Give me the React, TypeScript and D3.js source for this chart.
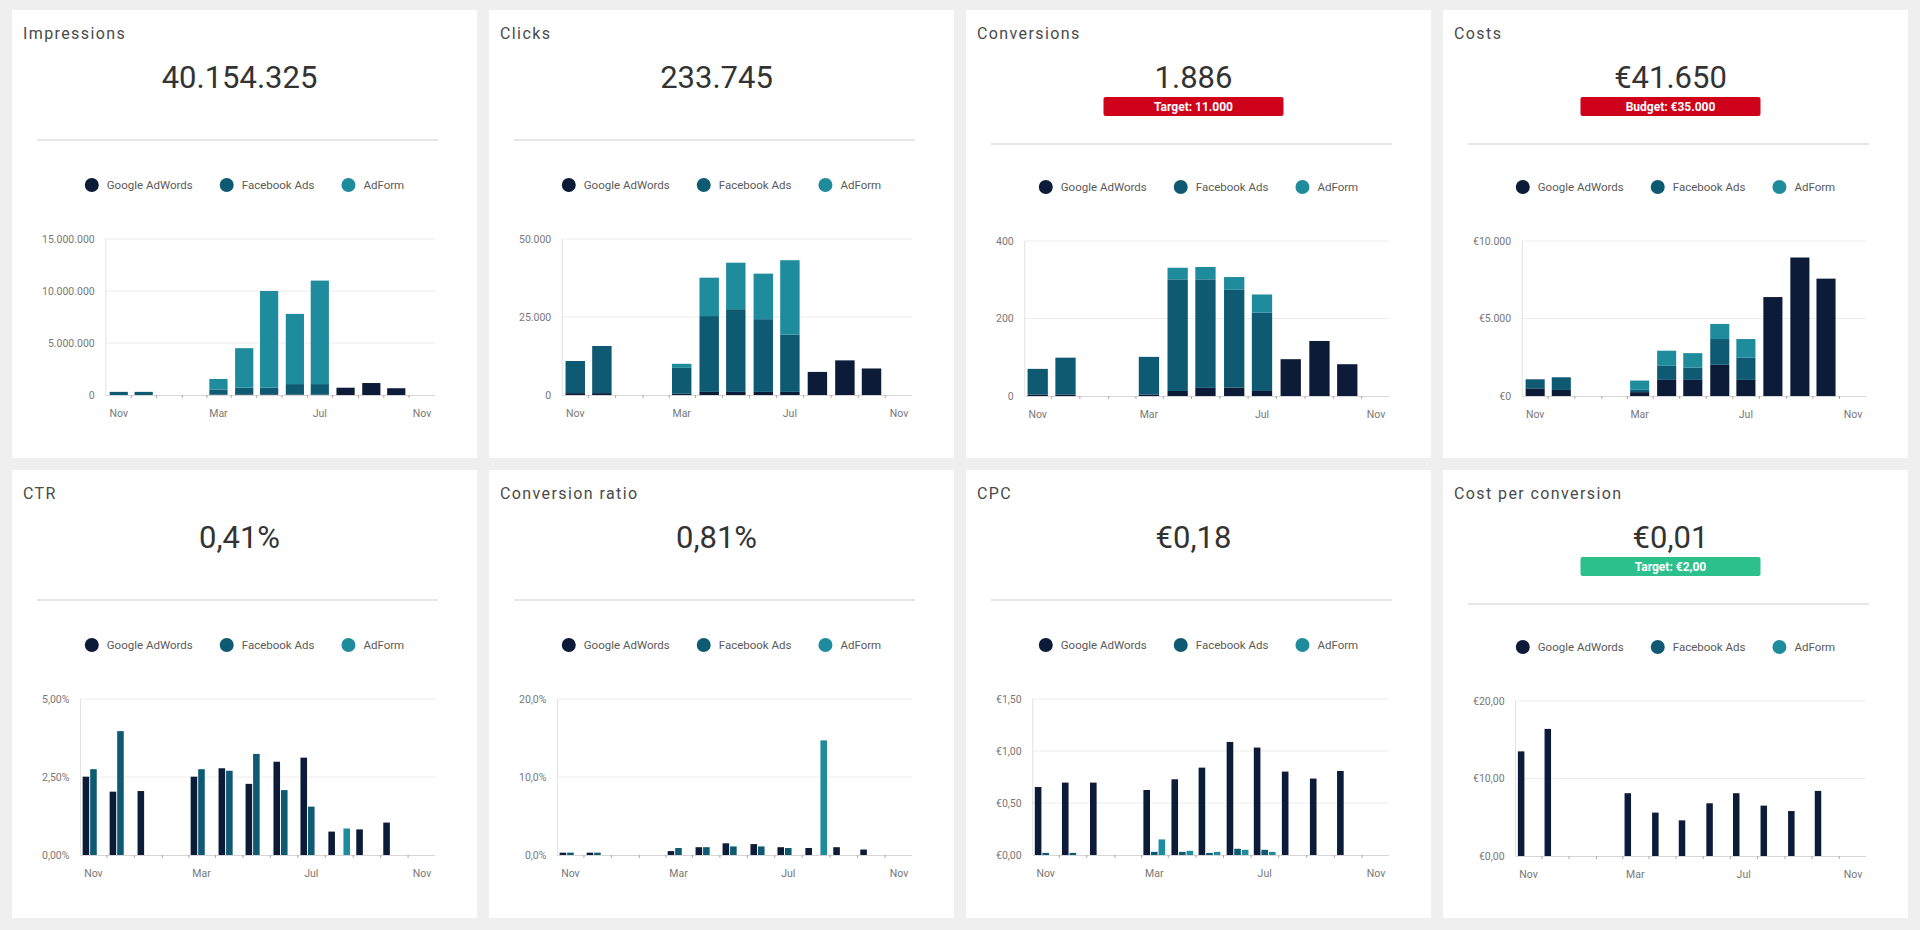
import React from 'react';
import * as d3 from 'd3';

// ---------- DATA ----------
const MONTHS = ['2016-11', '2016-12', '2017-01', '2017-02', '2017-03', '2017-04', '2017-05', '2017-06', '2017-07', '2017-08', '2017-09', '2017-10'];
const SERIES = ['Google AdWords', 'Facebook Ads', 'AdForm'];
const COLORS = ['#0b1b38', '#0f5a73', '#1f8c9d'];

const impressionsGoogle = [0, 0, 0, 0, 30000, 60000, 60000, 50000, 50000, 700000, 1150000, 650000];
const impressionsFacebook = [300000, 300000, 0, 0, 500000, 650000, 650000, 1000000, 1000000, 0, 0, 0];
const impressionsAdform = [0, 0, 0, 0, 1010000, 3790000, 9290000, 6750000, 9950000, 0, 0, 0];
const impressionsTicks = [0, 5000000, 10000000, 15000000];

const clicksGoogle = [600, 600, 0, 0, 400, 1000, 1000, 1000, 1000, 7400, 11100, 8500];
const clicksFacebook = [10300, 15100, 0, 0, 8300, 24300, 26500, 23300, 18400, 0, 0, 0];
const clicksAdform = [0, 0, 0, 0, 1300, 12300, 14900, 14600, 23800, 0, 0, 0];
const clicksTicks = [0, 25000, 50000];

const conversionsGoogle = [4, 4, 0, 0, 4, 13, 21, 22, 13, 95, 142, 82];
const conversionsFacebook = [66, 95, 0, 0, 97, 288, 280, 253, 202, 0, 0, 0];
const conversionsAdform = [0, 0, 0, 0, 0, 30, 32, 32, 47, 0, 0, 0];
const conversionsTicks = [0, 200, 400];

const costsGoogle = [494, 390, 0, 0, 250, 1039, 1039, 2013, 1039, 6383, 8935, 7571];
const costsFacebook = [584, 818, 0, 0, 150, 909, 799, 1662, 1448, 0, 0, 0];
const costsAdform = [0, 0, 0, 0, 594, 974, 928, 975, 1188, 0, 0, 0];
const costsTicks = [0, 5000, 10000];

const ctrGoogle = [2.51, 2.03, 2.05, 0, 2.51, 2.78, 2.28, 2.99, 3.12, 0.75, 0.82, 1.04];
const ctrFacebook = [2.75, 3.97, 0, 0, 2.75, 2.70, 3.24, 2.08, 1.55, 0, 0, 0];
const ctrAdform = [0, 0, 0, 0, 0, 0, 0, 0, 0, 0.85, 0, 0];
const ctrTicks = [0, 2.5, 5];

const convRatioGoogle = [0.3, 0.3, 0, 0, 0.5, 1.0, 1.5, 1.4, 1.0, 0.9, 1.0, 0.7];
const convRatioFacebook = [0.3, 0.3, 0, 0, 0.9, 1.0, 1.1, 1.1, 0.9, 0, 0, 0];
const convRatioAdform = [0, 0, 0, 0, 0, 0, 0, 0, 0, 14.7, 0, 0];
const convRatioTicks = [0, 10, 20];

const cpcGoogle = [0.654, 0.696, 0.696, 0, 0.625, 0.728, 0.84, 1.087, 1.033, 0.802, 0.735, 0.808];
const cpcFacebook = [0.02, 0.02, 0, 0, 0.03, 0.03, 0.02, 0.06, 0.05, 0, 0, 0];
const cpcAdform = [0, 0, 0, 0, 0.15, 0.04, 0.03, 0.05, 0.03, 0, 0, 0];
const cpcTicks = [0, 0.5, 1, 1.5];

const cpconvGoogle = [13.5, 16.4, 0, 0, 8.1, 5.6, 4.6, 6.8, 8.1, 6.5, 5.8, 8.4];
const cpconvFacebook = [0, 0, 0, 0, 0, 0, 0, 0, 0, 0, 0, 0];
const cpconvAdform = [0, 0, 0, 0, 0, 0, 0, 0, 0, 0, 0, 0];
const cpconvTicks = [0, 10, 20];

const TITLES = ['Impressions', 'Clicks', 'Conversions', 'Costs', 'CTR', 'Conversion ratio', 'CPC', 'Cost per conversion'];
const VALUES = ['40.154.325', '233.745', '1.886', '€41.650', '0,41%', '0,81%', '€0,18', '€0,01'];
const BADGES = [null, null, 'Target: 11.000', 'Budget: €35.000', null, null, null, 'Target: €2,00'];
const BADGE_OK = [false, false, false, false, false, false, false, true];

// ---------- FORMAT ----------
const loc = d3.formatLocale({ decimal: ',', thousands: '.', grouping: [3], currency: ['€', ''] });
const fInt = loc.format(',.0f');
const fEur0 = loc.format('$,.0f');
const fEur2 = loc.format('$,.2f');
const fPct2 = (v: number) => loc.format(',.2f')(v) + '%';
const fPct1 = (v: number) => loc.format(',.1f')(v) + '%';

type PanelDef = {
  mode: 'stack' | 'group';
  data: number[][];
  ticks: number[];
  fmt: (v: number) => string;
};

const PANELS: PanelDef[] = [
  { mode: 'stack', data: [impressionsGoogle, impressionsFacebook, impressionsAdform], ticks: impressionsTicks, fmt: fInt },
  { mode: 'stack', data: [clicksGoogle, clicksFacebook, clicksAdform], ticks: clicksTicks, fmt: fInt },
  { mode: 'stack', data: [conversionsGoogle, conversionsFacebook, conversionsAdform], ticks: conversionsTicks, fmt: fInt },
  { mode: 'stack', data: [costsGoogle, costsFacebook, costsAdform], ticks: costsTicks, fmt: fEur0 },
  { mode: 'group', data: [ctrGoogle, ctrFacebook, ctrAdform], ticks: ctrTicks, fmt: fPct2 },
  { mode: 'group', data: [convRatioGoogle, convRatioFacebook, convRatioAdform], ticks: convRatioTicks, fmt: fPct1 },
  { mode: 'group', data: [cpcGoogle, cpcFacebook, cpcAdform], ticks: cpcTicks, fmt: fEur2 },
  { mode: 'group', data: [cpconvGoogle, cpconvFacebook, cpconvAdform], ticks: cpconvTicks, fmt: fEur2 },
];

// ---------- HELPERS ----------
const FONT = 'Roboto, sans-serif';
const TICK_SIZE = 10.5;
const LEGEND_SIZE = 11.5;
let _ctx: CanvasRenderingContext2D | null = null;
function textWidth(t: string, size: number, weight = 'normal') {
  if (!_ctx) _ctx = document.createElement('canvas').getContext('2d');
  if (!_ctx) return t.length * size * 0.55;
  _ctx.font = `${weight} ${size}px Roboto`;
  return _ctx.measureText(t).width;
}
const parseMonth = d3.timeParse('%Y-%m');
const DATES = MONTHS.map((m) => parseMonth(m) as Date);
const X_START = new Date(2016, 10, 1);
const X_END = new Date(2017, 10, 1);

const PW = 465;
const PH = 448;

function Panel({ idx, x0, y0 }: { idx: number; x0: number; y0: number }) {
  const p = PANELS[idx];
  const badge = BADGES[idx];
  const hasBadge = !!badge;
  const top = hasBadge ? 231 : 229;
  const bottom = hasBadge ? 386 : 385;
  const labels = p.ticks.map(p.fmt);
  const maxW = d3.max(labels, (t) => textWidth(t, TICK_SIZE)) || 0;
  const left = 30 + maxW + 11;
  const right = PW - 42;
  const pad = 13;
  const x = d3.scaleTime().domain([X_START, X_END]).range([left + pad, right - pad]);
  const y = d3.scaleLinear().domain([0, d3.max(p.ticks) as number]).range([bottom, top]);
  const spacing = (right - left - 2 * pad) / 12;
  const cx = PW / 2;
  const vx = cx - 5;

  // legend layout
  const lw = SERIES.map((s) => textWidth(s, LEGEND_SIZE));
  const gap = 34;
  const total = lw.reduce((a, b) => a + b, 0) + SERIES.length * 22 + (SERIES.length - 1) * (gap - 7);
  let lx = cx - total / 2 + 7;
  const legendY = hasBadge ? 177 : 175;
  const legendItems = SERIES.map((s, i) => {
    const item = { s, i, x: lx };
    lx += 15 + lw[i] + gap;
    return item;
  });

  const xTicks = d3.timeMonth.range(X_START, new Date(2017, 10, 2), 4);
  const minor = d3.range(12).map((i) => {
    const a = x(d3.timeMonth.offset(X_START, i));
    const b = x(d3.timeMonth.offset(X_START, i + 1));
    return (a + b) / 2;
  });

  let bars: React.ReactNode[] = [];
  if (p.mode === 'stack') {
    const rows = DATES.map((d, i) => ({ date: d, s0: p.data[0][i], s1: p.data[1][i], s2: p.data[2][i] }));
    const stacked = d3.stack<any>().keys(['s0', 's1', 's2'])(rows);
    const bw = spacing * 0.72;
    stacked.forEach((layer, si) => {
      layer.forEach((d, i) => {
        if (d[1] - d[0] <= 0) return;
        const xc = x(DATES[i]);
        bars.push(
          <rect key={`b${si}-${i}`} x={xc - bw / 2} width={bw} y={y(d[1])} height={y(d[0]) - y(d[1])} fill={COLORS[si]} />
        );
      });
    });
  } else {
    const bw = spacing * 0.24;
    const off = spacing * 0.275;
    p.data.forEach((arr, si) => {
      arr.forEach((v, i) => {
        if (!(v > 0)) return;
        const xc = x(DATES[i]) + (si - 1) * off;
        bars.push(
          <rect key={`g${si}-${i}`} x={xc - bw / 2} width={bw} y={y(v)} height={y(0) - y(v)} fill={COLORS[si]} />
        );
      });
    });
  }

  return (
    <g transform={`translate(${x0},${y0})`}>
      <rect width={PW} height={PH} fill="#ffffff" />
      <text x={11} y={29} fontSize={16} letterSpacing={1.4} fill="#4a4a4a" fontFamily={FONT}>{TITLES[idx]}</text>
      <text x={vx} y={78} fontSize={31} fill="#333333" textAnchor="middle" fontFamily={FONT}>{VALUES[idx]}</text>
      {hasBadge && (
        <g>
          <rect x={vx - 90} y={87} width={180} height={19} rx={2} fill={BADGE_OK[idx] ? '#2cc08c' : '#d0021b'} />
          <text x={vx} y={101} fontSize={12} fontWeight="bold" fill="#ffffff" textAnchor="middle" fontFamily={FONT}>{badge}</text>
        </g>
      )}
      <line x1={25} x2={PW - 39} y1={hasBadge ? 134 : 130} y2={hasBadge ? 134 : 130} stroke="#dedede" strokeWidth={1.5} />
      {legendItems.map((it) => (
        <g key={it.s}>
          <circle cx={it.x} cy={legendY} r={7} fill={COLORS[it.i]} />
          <text x={it.x + 15} y={legendY + 4} fontSize={LEGEND_SIZE} fill="#5a5a5a" fontFamily={FONT}>{it.s}</text>
        </g>
      ))}
      {p.ticks.map((t, i) => (
        <g key={`t${i}`}>
          {i > 0 && <line x1={left} x2={right} y1={y(t)} y2={y(t)} stroke="#ececec" />}
          <text x={left - 11} y={y(t) + 3.5} fontSize={TICK_SIZE} fill="#777" textAnchor="end" fontFamily={FONT}>{labels[i]}</text>
        </g>
      ))}
      <line x1={left} x2={left} y1={top} y2={bottom} stroke="#e2e2e2" />
      {bars}
      <line x1={left} x2={right} y1={bottom + 0.5} y2={bottom + 0.5} stroke="#d6d6d6" />
      {minor.map((m, i) => (
        <line key={`m${i}`} x1={m} x2={m} y1={bottom} y2={bottom + 3} stroke="#aaaaaa" />
      ))}
      {xTicks.map((d, i) => (
        <text key={`x${i}`} x={x(d)} y={bottom + 22} fontSize={TICK_SIZE} fill="#777" textAnchor="middle" fontFamily={FONT}>{d3.timeFormat('%b')(d)}</text>
      ))}
    </g>
  );
}

export default function App() {
  const cols = [12, 489, 966, 1443];
  const rows = [10, 470];
  return (
    <div style={{ position: 'absolute', left: 0, top: 0, width: 1920, height: 930, background: '#efefef' }}>
      <svg width={1920} height={930} style={{ display: 'block' }}>
        {PANELS.map((_, i) => (
          <Panel key={i} idx={i} x0={cols[i % 4]} y0={rows[Math.floor(i / 4)]} />
        ))}
      </svg>
    </div>
  );
}
